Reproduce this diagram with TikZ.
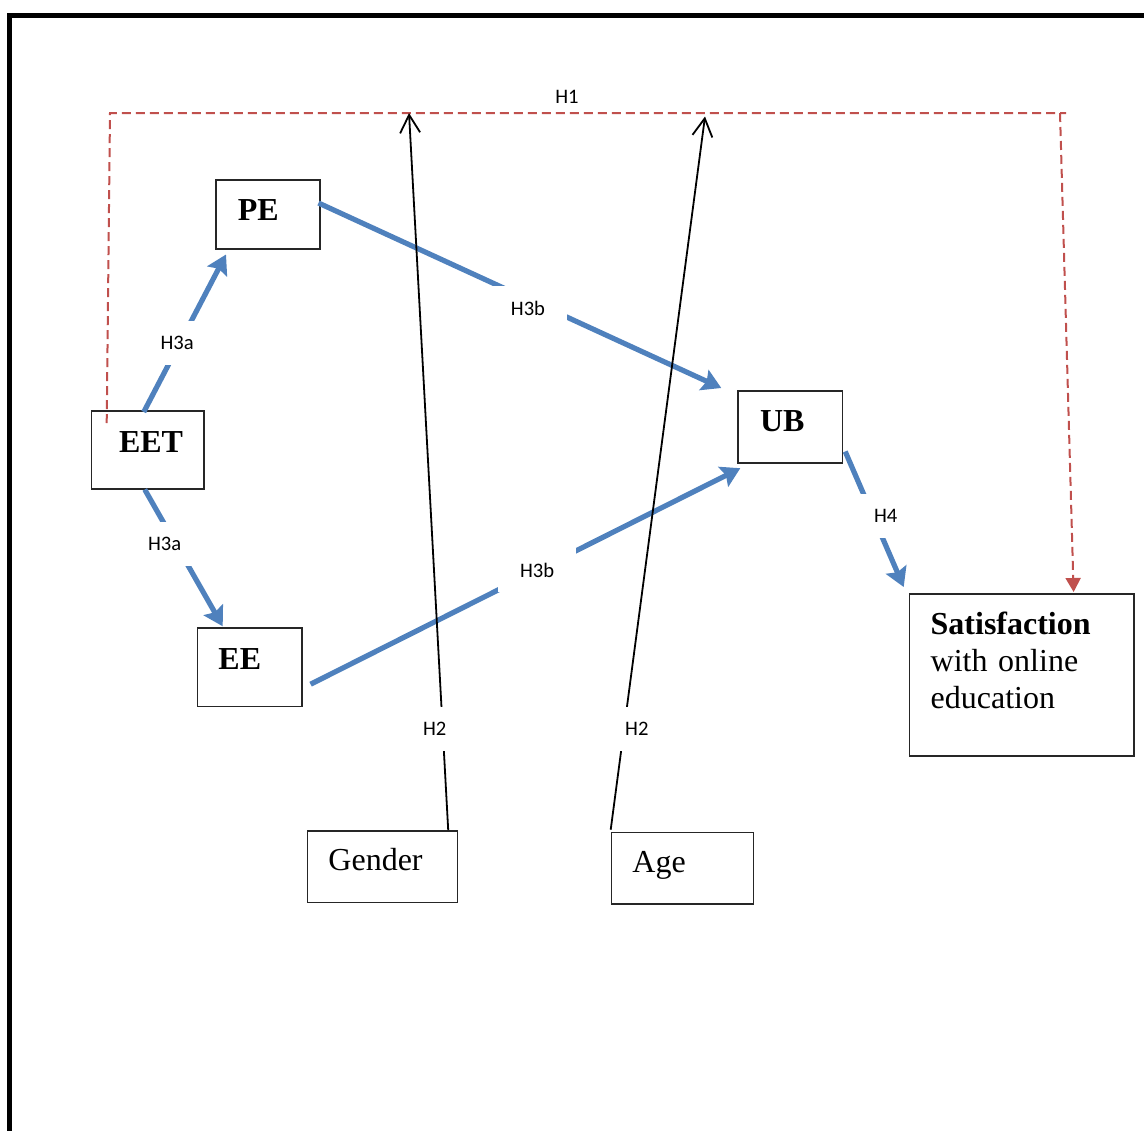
\documentclass[tikz,border=0pt]{standalone}
\usepackage{fontspec}
\setmainfont{Liberation Serif}
\newfontfamily\hypfont{Carlito}
\usetikzlibrary{arrows.meta,calc}

\definecolor{effectblue}{HTML}{4F81BD}
\definecolor{directred}{HTML}{C0504D}

\tikzset{
    varbox/.style = {draw=black!85, line width=0.75pt, anchor=north west,
        inner ysep=0pt, align=left, font=\fontsize{16}{18.5}\selectfont},
    effect/.style = {effectblue, line width=2.6pt,
        -{Stealth[length=9.5pt, width=11pt, inset=1.5pt]}},
    moderator/.style = {black, line width=0.9pt,
        -{Straight Barb[length=9pt, width=10pt]}},
    direct/.style = {directred, line width=1pt, dash pattern=on 4.5pt off 2.5pt},
    hyp/.style = {fill=white, text=black, font=\hypfont\fontsize{10.3}{12}\selectfont,
        inner xsep=11pt, minimum height=22pt},
    hyptext/.style = {text=black, font=\hypfont\fontsize{10.3}{12}\selectfont},
}

\begin{document}
\begin{tikzpicture}[x=0.5pt, y=-0.5pt]
    \useasboundingbox (0,0) rectangle (1144,1130);
    \clip (0,0) rectangle (1144,1130);
    \draw[line width=2.5pt] (9.5,1140) -- (9.5,15) -- (1150,15);

    \node[varbox, inner xsep=11pt, text width=30pt, text height=20.2pt, text depth=14.3pt] (PE) at (215,179) {\textbf{PE}};
    \node[varbox, align=right, inner xsep=10.5pt, text width=35.3pt, text height=21pt, text depth=18pt] (EET) at (90.7,410) {\textbf{EET}};
    \node[varbox, inner xsep=10.5pt, text width=31.2pt, text height=20.5pt, text depth=18.7pt] (EE) at (196.7,627.3) {\textbf{EE}};
    \node[varbox, inner xsep=11pt, text width=30.2pt, text height=20.5pt, text depth=15.5pt] (UB) at (737.3,390) {\textbf{UB}};
    \node[varbox, inner xsep=10.6pt, text width=91pt, text height=20.2pt, text depth=60.8pt] (SAT) at (908.7,593) {\textbf{Satisfaction}\\ with online\\ education};
    \node[varbox, inner xsep=10.5pt, text width=54pt, text height=20pt, text depth=15.8pt] (GEN) at (306.7,830) {Gender};
    \node[varbox, inner xsep=10.5pt, text width=50pt, text height=20pt, text depth=15.8pt] (AGE) at (610.7,831.7) {Age};

    \coordinate (h1left) at (110,113);
    \coordinate (h1right) at (1066,113);
    \coordinate (h1drop) at (1060,113);
    \coordinate (gtop) at (409,113);
    \coordinate (atop) at (705,116.5);

    \draw[effect] ($(EET.north)+(-4,2)$) -- node[hyp, pos=0.44, xshift=-1.4pt] {H3a} ($(PE.south west)+(11,5)$);
    \draw[effect] ($(EET.south)+(-3,0)$) -- node[hyp, pos=0.4, xshift=-5.6pt] {H3a} ($(EE.north west)+(26,-1)$);
    \draw[effect] ($(PE.north east)+(-2,24)$) -- node[hyp, pos=0.52, yshift=-4.5pt] {H3b} ($(UB.north west)+(-16,-2)$);
    \draw[effect] ($(EE.south east)+(8,-23)$) -- node[hyp, pos=0.527] {H3b} ($(UB.south west)+(3,4.7)$);
    \draw[effect] ($(UB.south east)+(2,-12)$) -- node[hyp, pos=0.474, xshift=6.4pt] {H4} ($(SAT.north west)+(-5,-6)$);

    \draw[direct] ($(EET.north west)+(16,13)$) -- (h1left) -- node[hyptext, above=1pt, pos=0.478] {H1} (h1right);
    \draw[direct, -{Triangle[length=7pt, width=7.5pt]}] (h1drop) -- ($(SAT.north east)+(-61,-1)$);

    \draw[moderator] ($(GEN.north east)+(-10,0)$) -- node[hyp, pos=0.141, xshift=-4pt] {H2} (gtop);
    \draw[moderator] ($(AGE.north west)+(0,-2)$) -- node[hyp, pos=0.141, xshift=6.4pt] {H2} (atop);
\end{tikzpicture}
\end{document}
